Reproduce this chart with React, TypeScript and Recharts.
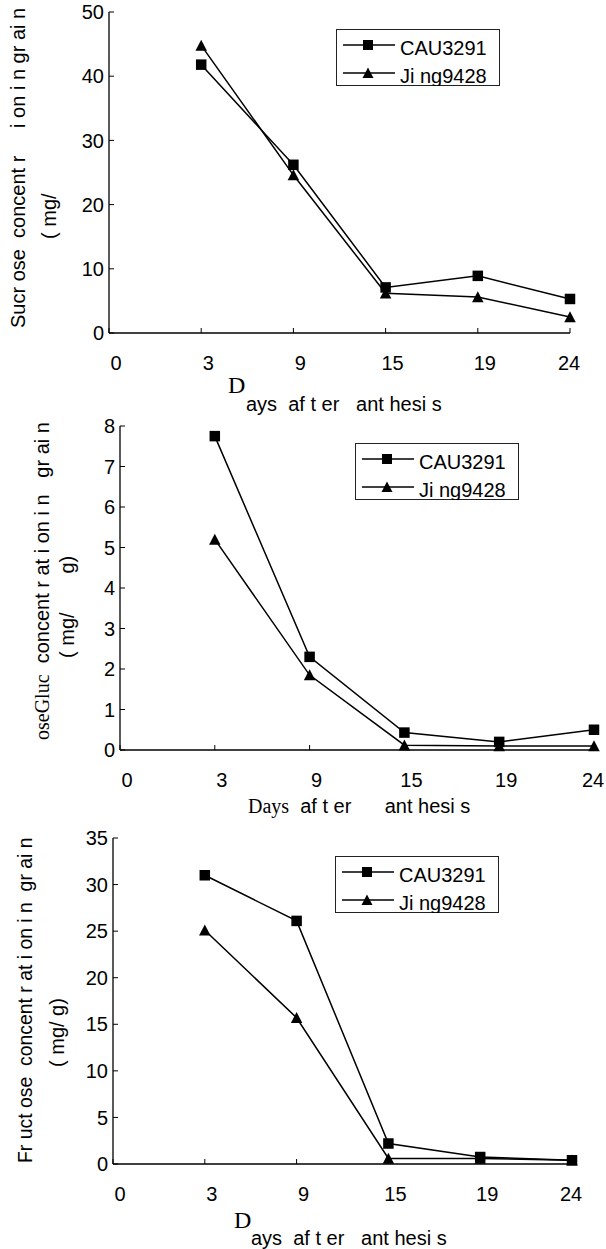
import React from 'react';
import { LineChart, Line, XAxis, YAxis, Legend } from 'recharts';

const SANS = '"Liberation Sans", Arial, Helvetica, sans-serif';
const SERIF = '"Liberation Serif", "Times New Roman", serif';

// x axis is categorical: evenly spaced day labels
const dayLabels = ['0', '3', '9', '15', '19', '24'];
const sampledDays = ['3', '9', '15', '19', '24'];
const cultivarNames = ['CAU3291', 'Ji ng9428'];

const sucroseCAU = [41.8, 26.2, 7.1, 8.9, 5.3];
const sucroseJing = [44.8, 24.6, 6.2, 5.6, 2.5];
const glucoseCAU = [7.75, 2.3, 0.43, 0.2, 0.5];
const glucoseJing = [5.2, 1.85, 0.12, 0.1, 0.1];
const fructoseCAU = [31.0, 26.1, 2.2, 0.75, 0.4];
const fructoseJing = [25.1, 15.7, 0.6, 0.6, 0.4];

const sucroseTicks = [0, 10, 20, 30, 40, 50];
const glucoseTicks = [0, 1, 2, 3, 4, 5, 6, 7, 8];
const fructoseTicks = [0, 5, 10, 15, 20, 25, 30, 35];

const dayIndexTicks = dayLabels.map((_, i) => i);

function buildRows(cau: number[], jing: number[]) {
  return sampledDays.map((d, i) => ({
    day: dayLabels.indexOf(d),
    cau: cau[i],
    jing: jing[i],
  }));
}

type MarkerKind = 'square' | 'triangle';

function Marker({ kind, cx, cy, size }: { kind: MarkerKind; cx: number; cy: number; size: number }) {
  if (kind === 'square') {
    return <rect x={cx - size / 2} y={cy - size / 2} width={size} height={size} fill="#000" />;
  }
  const half = size / 2;
  return (
    <polygon
      points={`${cx},${cy - half - 0.5} ${cx - half - 0.5},${cy + half} ${cx + half + 0.5},${cy + half}`}
      fill="#000"
    />
  );
}

const dotFor = (kind: MarkerKind) => (p: any) => (
  <Marker key={`${kind}-${p.index}`} kind={kind} cx={p.cx} cy={p.cy} size={10.5} />
);

// day labels sit a little right of their tick, except the last one
function DayTick(props: any) {
  const { x, y, payload } = props;
  const last = payload.value === dayLabels.length - 1;
  return (
    <text
      x={x + (last ? -1 : 7)}
      y={y}
      dy="0.71em"
      textAnchor="middle"
      fontSize={20}
      fontFamily={SANS}
      fill="#000"
    >
      {dayLabels[payload.value]}
    </text>
  );
}

function LegendBox(props: any) {
  const payload = props.payload || [];
  return (
    <svg width={164} height={57} style={{ display: 'block' }}>
      <rect x={0.5} y={0.5} width={163} height={56} fill="#fff" stroke="#222" strokeWidth={1} />
      {payload.map((entry: any, i: number) => {
        const y = 16 + 28 * i;
        const kind: MarkerKind = entry.dataKey === 'cau' ? 'square' : 'triangle';
        return (
          <g key={entry.value}>
            <line x1={7} x2={59} y1={y} y2={y} stroke="#000" strokeWidth={1.5} />
            <Marker kind={kind} cx={32} cy={y} size={10} />
            <text x={64} y={y + 10} fontSize={20} fontFamily={SANS} fill="#000">
              {entry.value}
            </text>
          </g>
        );
      })}
    </svg>
  );
}

interface PanelProps {
  top: number;
  height: number;
  rows: { day: number; cau: number; jing: number }[];
  yTicks: number[];
  axisLeft: number;
  plotRight: number;
  plotTop: number;
  plotBottom: number;
  legendLeft: number;
  legendTop: number;
}

function SugarPanel({ top, height, rows, yTicks, axisLeft, plotRight, plotTop, plotBottom, legendLeft, legendTop }: PanelProps) {
  const xAxisHeight = 30;
  return (
    <div style={{ position: 'absolute', left: 0, top }}>
      <LineChart
        width={606}
        height={height}
        data={rows}
        margin={{ top: plotTop, right: 606 - plotRight, bottom: height - plotBottom - xAxisHeight, left: 0 }}
      >
        <XAxis
          dataKey="day"
          type="number"
          domain={[0, dayLabels.length - 1]}
          ticks={dayIndexTicks}
          interval={0}
          height={xAxisHeight}
          tickSize={-5}
          tickMargin={28}
          axisLine={{ stroke: '#000', strokeWidth: 1.3 }}
          tickLine={{ stroke: '#000', strokeWidth: 1 }}
          tick={<DayTick />}
        />
        <YAxis
          type="number"
          domain={[yTicks[0], yTicks[yTicks.length - 1]]}
          ticks={yTicks}
          interval={0}
          width={axisLeft}
          tickSize={-5}
          tickMargin={10}
          axisLine={{ stroke: '#000', strokeWidth: 1.3 }}
          tickLine={{ stroke: '#000', strokeWidth: 1 }}
          tick={{ fill: '#000', fontSize: 20, fontFamily: SANS }}
        />
        <Legend
          layout="vertical"
          align="center"
          verticalAlign="middle"
          content={<LegendBox />}
          wrapperStyle={{ left: legendLeft, top: legendTop, width: 164, height: 57 }}
        />
        <Line
          dataKey="cau"
          name={cultivarNames[0]}
          stroke="#000"
          strokeWidth={1.5}
          dot={dotFor('square')}
          activeDot={false}
          isAnimationActive={false}
        />
        <Line
          dataKey="jing"
          name={cultivarNames[1]}
          stroke="#000"
          strokeWidth={1.5}
          dot={dotFor('triangle')}
          activeDot={false}
          isAnimationActive={false}
        />
      </LineChart>
    </div>
  );
}

function VText({ x, y, size = 20, children }: { x: number; y: number; size?: number; children: React.ReactNode }) {
  return (
    <text
      transform={`translate(${x},${y}) rotate(-90)`}
      fontSize={size}
      fontFamily={SANS}
      fill="#000"
      xmlSpace="preserve"
      style={{ whiteSpace: 'pre' }}
    >
      {children}
    </text>
  );
}

function HText({ x, y, size = 20, family = SANS, children }: { x: number; y: number; size?: number; family?: string; children: React.ReactNode }) {
  return (
    <text x={x} y={y} fontSize={size} fontFamily={family} fill="#000" xmlSpace="preserve" style={{ whiteSpace: 'pre' }}>
      {children}
    </text>
  );
}

export default function App() {
  return (
    <div style={{ position: 'absolute', left: 0, top: 0, width: 606, height: 1249, background: '#fff', overflow: 'hidden' }}>
      <SugarPanel
        top={0}
        height={420}
        rows={buildRows(sucroseCAU, sucroseJing)}
        yTicks={sucroseTicks}
        axisLeft={109}
        plotRight={570}
        plotTop={12}
        plotBottom={333}
        legendLeft={336}
        legendTop={29}
      />
      <SugarPanel
        top={415}
        height={415}
        rows={buildRows(glucoseCAU, glucoseJing)}
        yTicks={glucoseTicks}
        axisLeft={120}
        plotRight={594}
        plotTop={11}
        plotBottom={335}
        legendLeft={355}
        legendTop={28}
      />
      <SugarPanel
        top={825}
        height={424}
        rows={buildRows(fructoseCAU, fructoseJing)}
        yTicks={fructoseTicks}
        axisLeft={113}
        plotRight={572}
        plotTop={13}
        plotBottom={339}
        legendLeft={335}
        legendTop={31}
      />
      <svg width={606} height={1249} style={{ position: 'absolute', left: 0, top: 0, pointerEvents: 'none' }}>
        {/* sucrose titles */}
        <VText x={25} y={328}>{'Sucr ose  concent r     i on i n gr ai n'}</VText>
        <VText x={56} y={239}>{'( mg/'}</VText>
        <HText x={228} y={393} size={24} family={SERIF}>D</HText>
        <HText x={246} y={411}>{'ays  af t er   ant hesi s'}</HText>

        {/* glucose titles */}
        <VText x={49} y={740}>
          <tspan fontFamily={SERIF}>oseGluc</tspan>
          <tspan>{'  concent r at i on i n   gr ai n'}</tspan>
        </VText>
        <VText x={74} y={658}>{'( mg/       g)'}</VText>
        <HText x={248} y={813}>
          <tspan fontFamily={SERIF}>Days</tspan>
          <tspan>{'  af t er      ant hesi s'}</tspan>
        </HText>

        {/* fructose titles */}
        <VText x={32} y={1163} size={19.4}>{'Fr uct ose  concent r at i on i n  gr ai n'}</VText>
        <VText x={64} y={1067}>{'( mg/ g)'}</VText>
        <HText x={234} y={1228} size={24} family={SERIF}>D</HText>
        <HText x={251} y={1245}>{'ays  af t er   ant hesi s'}</HText>
      </svg>
    </div>
  );
}
